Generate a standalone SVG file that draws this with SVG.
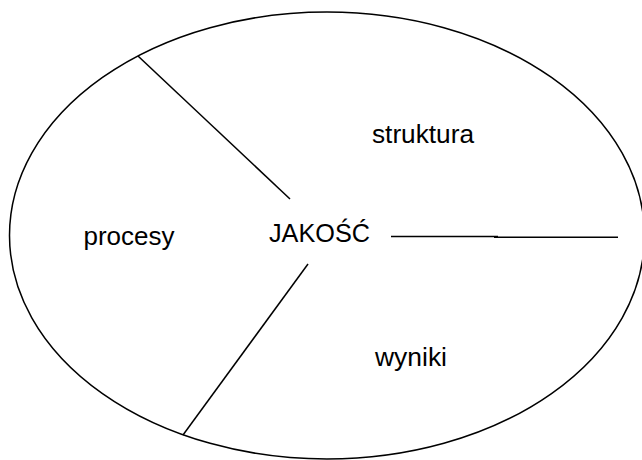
<svg xmlns="http://www.w3.org/2000/svg" width="642" height="460" viewBox="0 0 642 460">
  <style>
    .outline { fill: none; stroke: #000; stroke-width: 1.5; }
    .spoke { stroke: #000; stroke-width: 1.5; fill: none; stroke-linecap: butt; }
    .label { font-family: "Liberation Sans", Arial, sans-serif; font-size: 26px; fill: #000; }
  </style>
  <rect width="642" height="460" fill="#fff"/>
  <g id="quality-oval">
    <ellipse class="outline" cx="327" cy="235.5" rx="317.5" ry="223.5"/>
  </g>
  <g id="connectors">
    <line class="spoke" x1="138" y1="56" x2="290" y2="199"/>
    <line class="spoke" x1="308" y1="264" x2="183" y2="435"/>
    <line class="spoke" x1="391" y1="236.5" x2="498" y2="236.5"/>
    <line class="spoke" x1="494" y1="237.3" x2="618" y2="237.3"/>
  </g>
  <g id="node-jakosc">
    <text class="label" x="269" y="242" textLength="101" lengthAdjust="spacingAndGlyphs">JAKOŚĆ</text>
  </g>
  <g id="node-struktura">
    <text class="label" x="372" y="143" textLength="102" lengthAdjust="spacingAndGlyphs">struktura</text>
  </g>
  <g id="node-procesy">
    <text class="label" x="83.5" y="245" textLength="91" lengthAdjust="spacingAndGlyphs">procesy</text>
  </g>
  <g id="node-wyniki">
    <text class="label" x="375" y="366" textLength="72" lengthAdjust="spacingAndGlyphs">wyniki</text>
  </g>
</svg>
